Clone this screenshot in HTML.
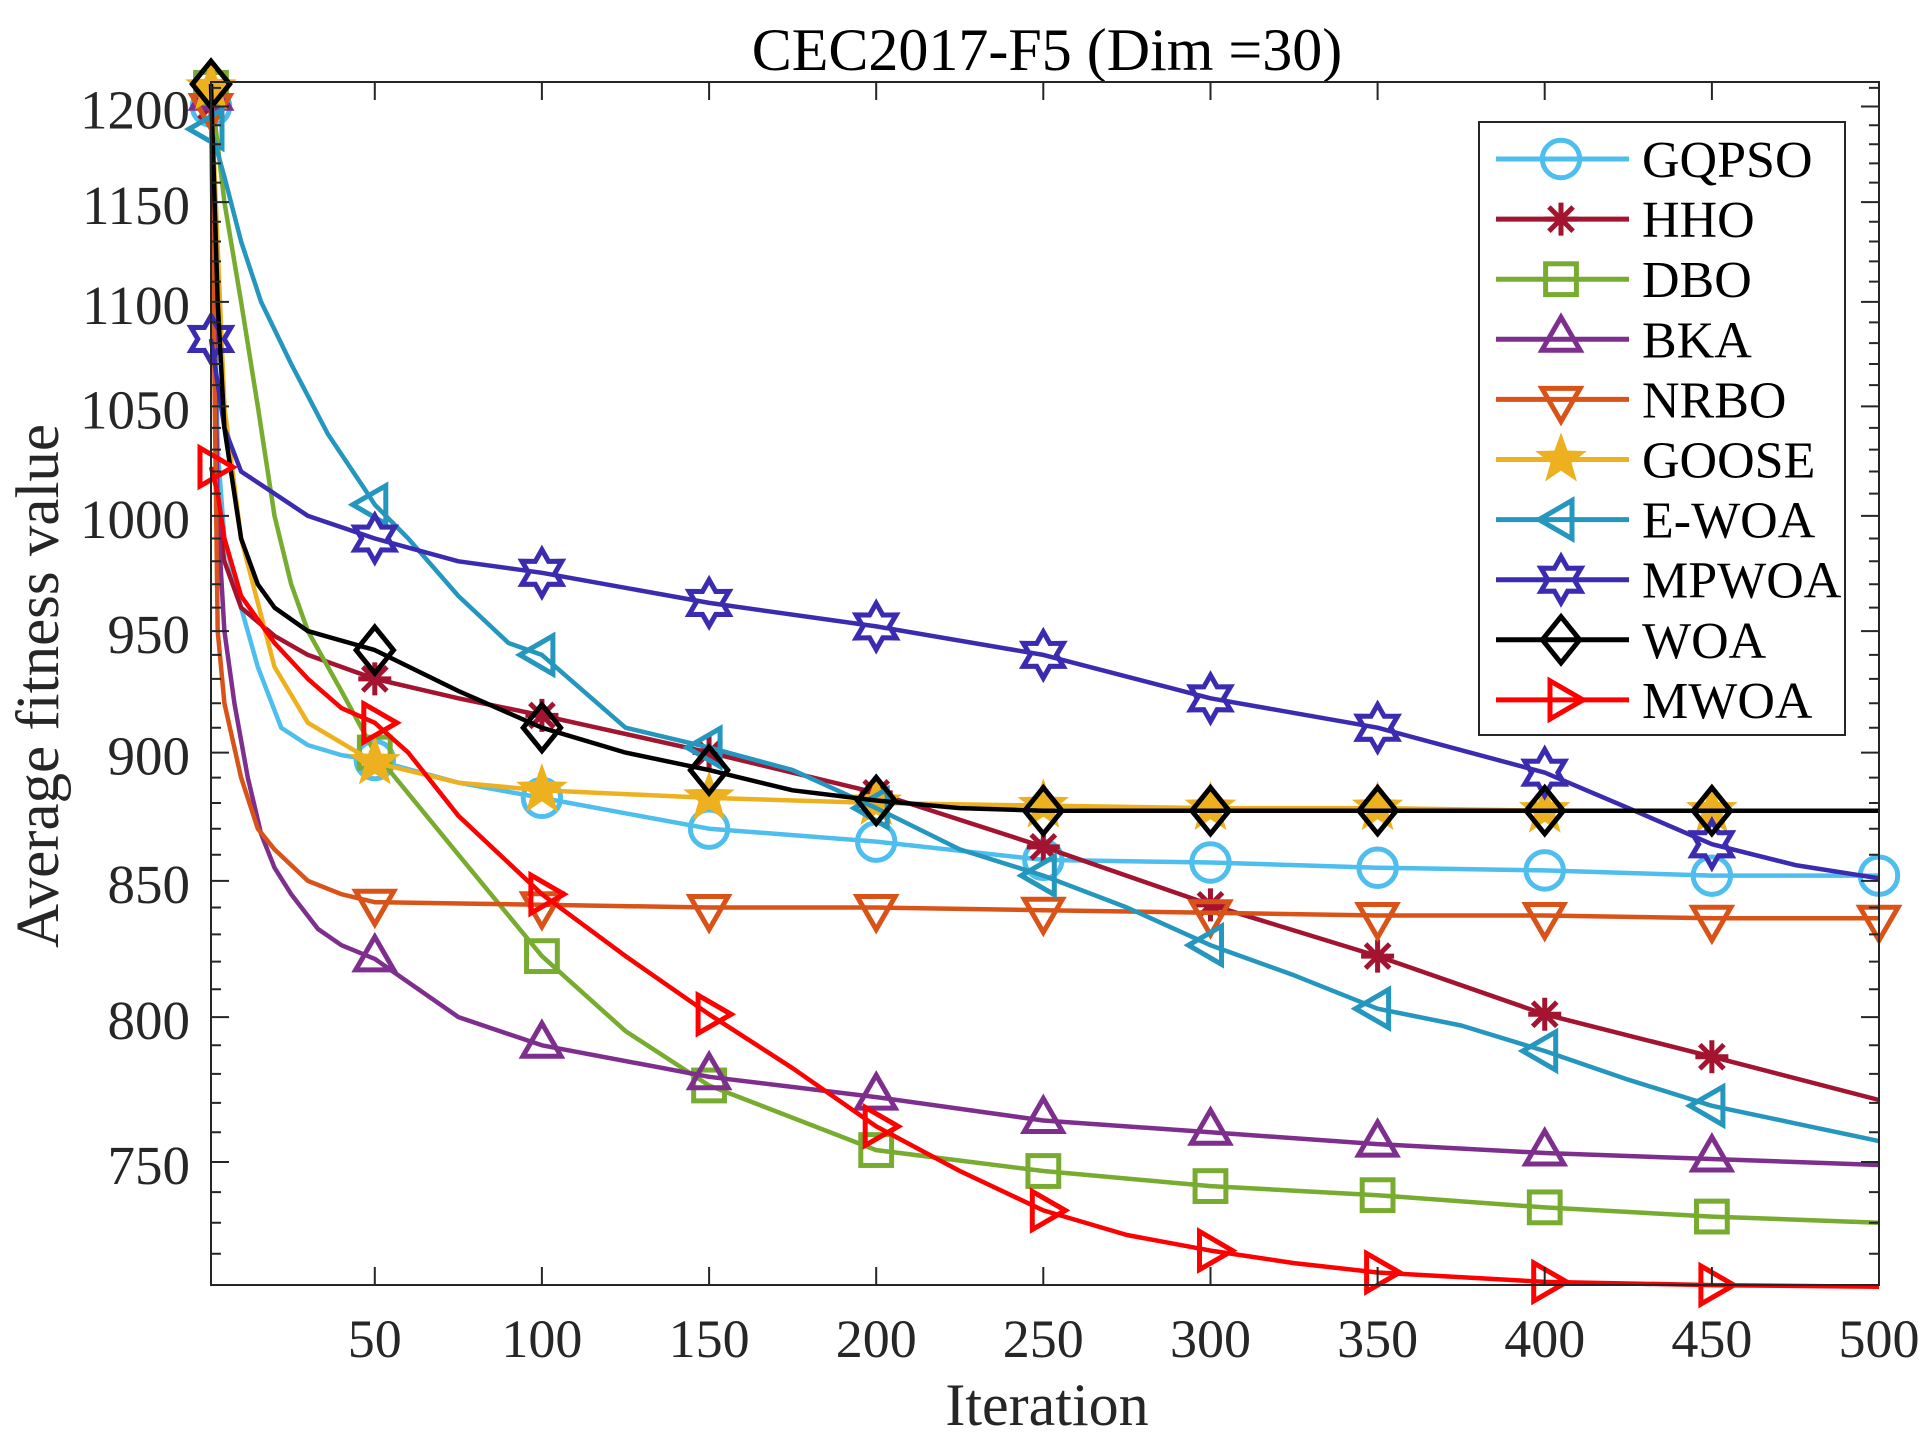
<!DOCTYPE html>
<html><head><meta charset="utf-8"><style>
html,body{margin:0;padding:0;background:#fff;}
svg{display:block;font-family:"Liberation Serif",serif;}
</style></head><body>
<svg id="chart" width="1920" height="1440" viewBox="0 0 1920 1440" xmlns="http://www.w3.org/2000/svg">
<rect x="0" y="0" width="1920" height="1440" fill="#fff"/>
<text x="1047" y="70" font-size="60" text-anchor="middle" fill="#000">CEC2017-F5 (Dim =30)</text>
<text x="1047" y="1425" font-size="60" text-anchor="middle" fill="#262626">Iteration</text>
<text transform="translate(58,686) rotate(-90)" font-size="61" text-anchor="middle" fill="#262626">Average fitness value</text>
<g id="series-layer"></g>
<g id="axes-layer"></g>
<g id="legend-layer"></g>
</svg>
<script>
const seriesNames = ["GQPSO","HHO","DBO","BKA","NRBO","GOOSE","E-WOA","MPWOA","WOA","MWOA"];
const seriesColors = ["#4DBEEE","#A2142F","#77AC30","#7E2F8E","#D95319","#EDB120","#2596BE","#3A2BB0","#000000","#FF0000"];
const seriesMarkers = ["circle","asterisk","square","tri-up","tri-down","star","tri-left","hexagram","diamond","tri-right"];
const itersGQPSO = [1,3,5,10,15,22,30,40,50,75,100,150,200,250,300,350,400,450,500];
const valsGQPSO  = [1200,1030,990,960,935,910,903,899,897,888,882,870,865,858,857,855,854,852,852];
const itersHHO = [1,3,5,10,20,30,50,75,100,150,200,250,300,350,400,450,500];
const valsHHO  = [1200,1000,980,960,948,940,930,922,915,900,884,863,841,822,801,786,771];
const itersDBO = [1,5,10,15,20,25,30,40,50,75,100,125,150,200,250,300,350,400,450,500];
const valsDBO  = [1210,1150,1100,1050,1000,970,950,925,900,860,822,795,776,754,747,742,739,735,732,730];
const itersBKA = [1,3,5,8,12,16,20,25,33,40,50,75,100,150,200,250,300,350,400,450,500];
const valsBKA  = [1205,1000,950,920,890,868,855,845,832,826,821,800,790,779,772,764,760,756,753,751,749];
const itersNRBO = [1,3,5,10,15,20,30,40,50,100,150,200,250,300,350,400,450,500];
const valsNRBO  = [1200,950,920,890,870,862,850,845,842,841,840,840,839,838,837,837,836,836];
const itersGOOSE = [1,5,10,20,30,50,75,100,150,200,250,300,350,400,450,500];
const valsGOOSE  = [1210,1050,990,935,912,896,888,885,882,880,879,878,878,877,877,877];
const itersEWOA = [1,5,10,16,25,36,47,50,60,75,90,100,125,150,175,200,225,250,275,300,325,350,375,400,425,450,475,500];
const valsEWOA  = [1188,1163,1130,1100,1070,1037,1012,1005,990,965,945,940,910,902,893,878,862,852,840,826,815,803,797,788,778,769,763,757];
const itersMPWOA = [1,5,10,20,30,50,75,100,150,200,250,300,350,400,425,450,475,500];
const valsMPWOA  = [1082,1040,1020,1010,1000,990,980,975,962,952,940,922,910,892,878,864,856,851];
const itersWOA = [1,3,5,10,15,20,30,50,75,100,125,150,175,200,225,250,300,350,400,450,500];
const valsWOA  = [1212,1100,1040,990,970,960,950,942,925,910,900,893,885,881,878,877,877,877,877,877,877];
const itersMWOA = [1,3,5,10,20,30,40,50,60,75,100,125,150,175,200,225,250,275,300,325,350,400,450,500];
const valsMWOA  = [1022,1010,990,965,945,930,918,912,900,875,845,822,801,782,762,747,734,726,721,717,714,711,710,709.5];
const markerIters = [1,50,100,150,200,250,300,350,400,450];
const yTickLabels = [750,800,850,900,950,1000,1050,1100,1150,1200];
const xTickLabels = [50,100,150,200,250,300,350,400,450,500];

const allIters = [itersGQPSO,itersHHO,itersDBO,itersBKA,itersNRBO,itersGOOSE,itersEWOA,itersMPWOA,itersWOA,itersMWOA];
const allVals = [valsGQPSO,valsHHO,valsDBO,valsBKA,valsNRBO,valsGOOSE,valsEWOA,valsMPWOA,valsWOA,valsMWOA];

const NS="http://www.w3.org/2000/svg";
const L=211,R=1879,T=82,B=1285;
const xMin=1,xMax=500;
const yRef=750,yRefPx=1162,pxPerDecade=5171;
function X(i){return L+(i-xMin)*(R-L)/(xMax-xMin);}
function Y(v){return yRefPx-pxPerDecade*Math.log10(v/yRef);}
const yMinVal=yRef*Math.pow(10,(yRefPx-B)/pxPerDecade);
const yMaxVal=yRef*Math.pow(10,(yRefPx-T)/pxPerDecade);
function mk(tag,attrs,parent){const e=document.createElementNS(NS,tag);for(const k in attrs)e.setAttribute(k,attrs[k]);parent.appendChild(e);return e;}

function drawMarker(g,type,cx,cy,color,s){
  const sw=5;
  let e;
  if(type==="circle"){e=mk("circle",{cx:cx,cy:cy,r:s*0.85,fill:"none",stroke:color,"stroke-width":sw},g);}
  else if(type==="square"){e=mk("rect",{x:cx-s*0.7,y:cy-s*0.7,width:s*1.4,height:s*1.4,fill:"none",stroke:color,"stroke-width":sw},g);}
  else if(type==="asterisk"){
    const d=`M${cx-s*0.75},${cy}L${cx+s*0.75},${cy}M${cx},${cy-s*0.75}L${cx},${cy+s*0.75}M${cx-s*0.55},${cy-s*0.55}L${cx+s*0.55},${cy+s*0.55}M${cx-s*0.55},${cy+s*0.55}L${cx+s*0.55},${cy-s*0.55}`;
    e=mk("path",{d:d,fill:"none",stroke:color,"stroke-width":sw},g);}
  else if(type.startsWith("tri")){
    const r=s; let ang={"tri-up":-90,"tri-down":90,"tri-left":180,"tri-right":0}[type];
    const pts=[0,120,240].map(a=>{const t=(ang+a)*Math.PI/180;return (cx+r*Math.cos(t)).toFixed(1)+","+(cy+r*Math.sin(t)).toFixed(1);}).join(" ");
    e=mk("polygon",{points:pts,fill:"none",stroke:color,"stroke-width":sw},g);}
  else if(type==="diamond"){
    e=mk("polygon",{points:`${cx},${cy-s*1.05} ${cx+s*0.85},${cy} ${cx},${cy+s*1.05} ${cx-s*0.85},${cy}`,fill:"none",stroke:color,"stroke-width":sw},g);}
  else if(type==="star"){
    const pts=[];for(let k=0;k<10;k++){const r=k%2?s*0.45:s*1.1;const t=(-90+k*36)*Math.PI/180;pts.push((cx+r*Math.cos(t)).toFixed(1)+","+(cy+r*Math.sin(t)).toFixed(1));}
    e=mk("polygon",{points:pts.join(" "),fill:color,stroke:color,"stroke-width":2},g);}
  else if(type==="hexagram"){
    const pts=[];for(let k=0;k<12;k++){const r=k%2?s*0.6:s*1.05;const t=(-90+k*30)*Math.PI/180;pts.push((cx+r*Math.cos(t)).toFixed(1)+","+(cy+r*Math.sin(t)).toFixed(1));}
    e=mk("polygon",{points:pts.join(" "),fill:"none",stroke:color,"stroke-width":sw},g);}
  return e;
}

const sl=document.getElementById("series-layer");
for(let s=0;s<seriesNames.length;s++){
  const g=mk("g",{},sl);
  
  
  const it=allIters[s],vs=allVals[s];
  const d=it.map((i,k)=>(k?"L":"M")+X(i).toFixed(1)+","+Y(vs[k]).toFixed(1)).join("");
  const p=mk("path",{d:d,fill:"none",stroke:seriesColors[s],"stroke-width":4.5,"stroke-linejoin":"round"},g);
  
  
  const mIters=markerIters.slice();
  if(seriesNames[s]==="GQPSO"||seriesNames[s]==="NRBO")mIters.push(500);
  for(let k=0;k<it.length;k++){
    if(mIters.indexOf(it[k])>=0){
      const m=drawMarker(g,seriesMarkers[s],X(it[k]),Y(vs[k]),seriesColors[s],22);
      
      
    }
  }
}

const ax=document.getElementById("axes-layer");
const frame=mk("rect",{x:L,y:T,width:R-L,height:B-T,fill:"none",stroke:"#262626","stroke-width":2},ax);


let tickD="";
for(let v=Math.ceil(yMinVal/10)*10;v<=yMaxVal;v+=10){
  const y=Y(v).toFixed(1);const len=(v%50===0)?18:10;
  tickD+=`M${L},${y}L${L+len},${y}M${R},${y}L${R-len},${y}`;
}
xTickLabels.forEach(v=>{const x=X(v).toFixed(1);tickD+=`M${x},${B}L${x},${B-18}M${x},${T}L${x},${T+18}`;});
const ticks=mk("path",{d:tickD,stroke:"#262626","stroke-width":2,fill:"none"},ax);


yTickLabels.forEach(v=>{
  const t=mk("text",{x:190,y:(Y(v)+22).toFixed(1),"font-size":55,"text-anchor":"end",fill:"#262626"},ax);
  t.textContent=v;
  
  
});
xTickLabels.forEach(v=>{
  const t=mk("text",{x:X(v).toFixed(1),y:1357,"font-size":54,"text-anchor":"middle",fill:"#262626"},ax);
  t.textContent=v;
  
  
});

const lg=document.getElementById("legend-layer");
const box=mk("rect",{x:1479,y:122,width:366,height:613,fill:"#fff",stroke:"#262626","stroke-width":2},lg);


for(let s=0;s<seriesNames.length;s++){
  const y=159+s*60.1;
  const g=mk("g",{},lg);
  
  
  mk("line",{x1:1496,y1:y,x2:1629,y2:y,stroke:seriesColors[s],"stroke-width":5},g);
  drawMarker(g,seriesMarkers[s],1561,y,seriesColors[s],22);
  const t=mk("text",{x:1642,y:y+18,"font-size":52,fill:"#000"},g);
  t.textContent=seriesNames[s];
}
</script>
</body></html>
